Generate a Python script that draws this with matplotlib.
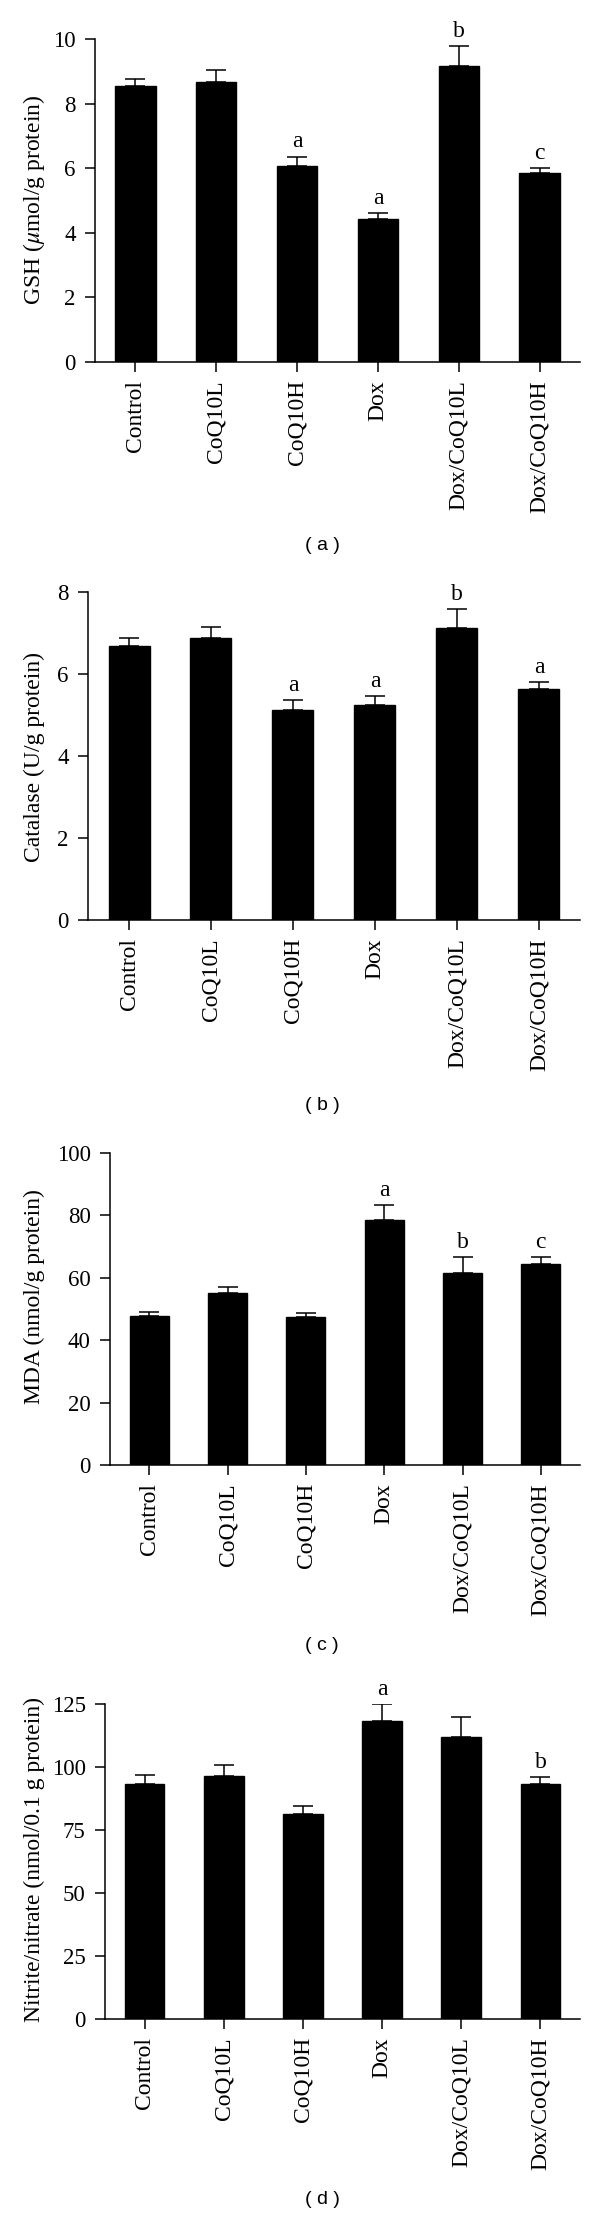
import numpy as np
import matplotlib.pyplot as plt

plt.rcParams['font.family'] = ['Liberation Serif', 'DejaVu Serif']
plt.rcParams['mathtext.fontset'] = 'stix'

##- Donnees -##
groups = ["Control", "CoQ10L", "CoQ10H", "Dox", "Dox/CoQ10L", "Dox/CoQ10H"]

gsh = [8.55, 8.67, 6.07, 4.42, 9.16, 5.85]
gsh_sem = [0.22, 0.37, 0.29, 0.20, 0.63, 0.15]
gsh_sig = ["", "", "a", "a", "b", "c"]

catalase = [6.68, 6.88, 5.12, 5.25, 7.11, 5.63]
catalase_sem = [0.21, 0.27, 0.24, 0.22, 0.48, 0.17]
catalase_sig = ["", "", "a", "a", "b", "a"]

mda = [47.7, 55.0, 47.3, 78.4, 61.5, 64.5]
mda_sem = [1.4, 2.1, 1.5, 4.9, 5.1, 2.1]
mda_sig = ["", "", "", "a", "b", "c"]

nitrite = [93.2, 96.5, 81.5, 118.1, 111.9, 93.2]
nitrite_sem = [3.8, 4.3, 3.1, 6.8, 7.9, 2.9]
nitrite_sig = ["", "", "", "a", "", "b"]

panels = [
    (gsh, gsh_sem, gsh_sig, "GSH ($\\mu$mol/g protein)", [0, 2, 4, 6, 8, 10], "( a )"),
    (catalase, catalase_sem, catalase_sig, "Catalase (U/g protein)", [0, 2, 4, 6, 8], "( b )"),
    (mda, mda_sem, mda_sig, "MDA (nmol/g protein)", [0, 20, 40, 60, 80, 100], "( c )"),
    (nitrite, nitrite_sem, nitrite_sig, "Nitrite/nitrate (nmol/0.1 g protein)", [0, 25, 50, 75, 100, 125], "( d )"),
]

# boites en pixels (gauche, droite, haut, bas) et positions des textes
W, H = 600, 2216
boxes = [(95, 580, 39, 362), (88, 580, 592, 920), (110, 580, 1153, 1465), (105, 580, 1704, 2019)]
ylab_y = [200, 757, 1297, 1860]
cap_y = [546, 1106, 1646, 2200]

fig = plt.figure(figsize=(W / 100, H / 100), dpi=100)

for k, (vals, sem, sig, ylab, yt, cap) in enumerate(panels):
    l, r, t, b = boxes[k]
    ax = fig.add_axes([l / W, 1 - b / H, (r - l) / W, (b - t) / H])
    x = np.arange(len(groups))
    ax.bar(x, vals, width=0.5, color="black", edgecolor="black", zorder=2)
    ax.errorbar(x, vals, yerr=[np.zeros(len(sem)), sem], fmt="none", ecolor="black",
                elinewidth=1.1, capsize=7, capthick=1.1, zorder=1)
    for i, s in enumerate(sig):
        if s:
            ax.annotate(s, (x[i], vals[i] + sem[i]), xytext=(0, 3), textcoords="offset points",
                        ha="center", va="bottom", fontsize=17)
    ax.set_xlim(-0.5, 5.5)
    ax.set_ylim(0, yt[-1])
    ax.set_yticks(yt)
    ax.set_xticks(x)
    ax.set_xticklabels(groups, rotation=90, fontsize=17)
    ax.tick_params(axis="y", labelsize=16.5, length=7, width=1.1, pad=7)
    ax.tick_params(axis="x", length=7, width=1.1, pad=6)
    for sp in ["top", "right"]:
        ax.spines[sp].set_visible(False)
    for sp in ["left", "bottom"]:
        ax.spines[sp].set_linewidth(1.1)
    fig.text(34 / W, 1 - ylab_y[k] / H, ylab, rotation=90, ha="center", va="center", fontsize=17)
    fig.text(322 / W, 1 - cap_y[k] / H, cap, ha="center", va="center", fontsize=14,
             family="Liberation Sans")

fig.savefig("out.png", dpi=100)
